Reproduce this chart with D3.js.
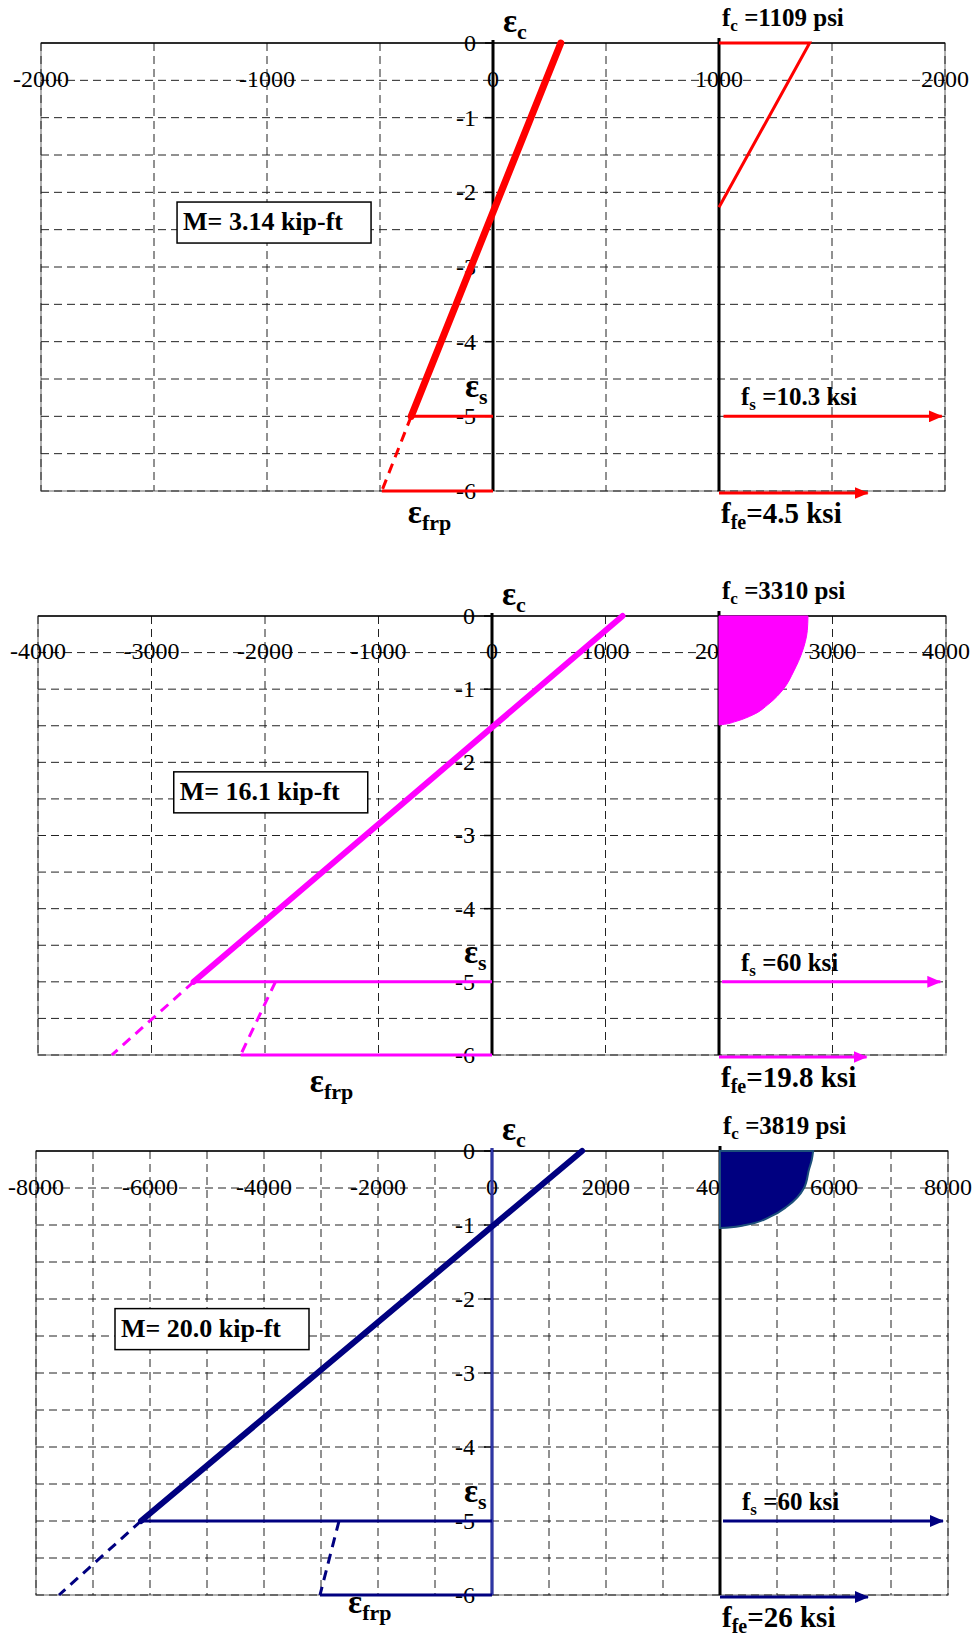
<!DOCTYPE html>
<html>
<head>
<meta charset="utf-8">
<script src="https://cdn.jsdelivr.net/npm/d3@7"></script>
<style>
body { margin: 0; background: #fff; }
text { font-family: "Liberation Serif", "Times New Roman", serif; }
</style>
</head>
<body>
<div id="holder"></div>
<script>
var width = 976;
var height = 1638;

// ---- data ----
var xMax = [2000, 4000, 8000];
var gridStep = [500, 1000, 1000];
var labelStep = [1000, 1000, 2000];
var depthTicks = [0, -1, -2, -3, -4, -5, -6];
var colors = ["#ff0000", "#ff00ff", "#000080"];
var epsTop = [300, 1150, 1580];          // concrete strain at top (depth 0)
var epsSteel = [-362, -2629, -6158];     // strain at steel level (depth -5)
var epsExtEnd = [-492, -3350, -7596];    // dashed extension end at depth -6
var frpDashTop = [null, -1908, -2684];   // debonded frp strain dashed line start (depth -5)
var epsFrp = [-492, -2215, -3018];       // frp strain at depth -6
var stressAxis = [1000, 2000, 4000];
var fsStart = [1020, 2027, 4053];
var fsEnd = [1986, 3950, 7912];
var ffeEnd = [1658, 3300, 6596];
var block1 = [[1000, -2.2], [1401, 0], [1000, 0]];
var block2 = [[2000, 0], [2784, 0], [2778, -0.2], [2731, -0.5], [2660, -0.75], [2567, -1.0],
              [2440, -1.2], [2300, -1.35], [2150, -1.44], [2050, -1.48], [2000, -1.49]];
var block3 = [[4000, 0], [5634, 0], [5610, -0.12], [5561, -0.25], [5474, -0.5], [5175, -0.75],
              [4900, -0.88], [4450, -1.0], [4150, -1.035], [4000, -1.04]];
var momentText = ["M= 3.14 kip-ft", "M= 16.1 kip-ft", "M= 20.0 kip-ft"];
var fcText = ["=1109 psi", "=3310 psi", "=3819 psi"];
var fsText = ["=10.3 ksi", "=60 ksi", "=60 ksi"];
var ffeText = ["=4.5 ksi", "=19.8 ksi", "=26 ksi"];

// ---- layout ----
var plotLeft = [41, 38, 36];
var plotRight = [945, 946, 948];
var plotTop = [43, 616, 1151];
var plotBottom = [491, 1055, 1595];
var boxX = [-1398, -2804, -6614];
var boxDepth = -2.13;
var frpLabelX = [-377, -1605, -2526];
var frpLabelDy = [32, 37, 18];
var lineW = [7, 6, 6];

var svg = d3.select("#holder")
  .append("svg")
  .attr("width", width)
  .attr("height", height);

var defs = svg.append("defs");
colors.forEach(function(c, i) {
  defs.append("marker")
    .attr("id", "arrow" + i)
    .attr("viewBox", "0 0 14 12")
    .attr("refX", 13)
    .attr("refY", 6)
    .attr("markerWidth", 14)
    .attr("markerHeight", 12)
    .attr("markerUnits", "userSpaceOnUse")
    .attr("orient", "auto")
    .append("path")
    .attr("d", "M0,0L14,6L0,12Z")
    .attr("fill", c);
});

// text with subscripts: parts = [[text, isSub], ...]
function label(g, x, y, parts, size, subSize) {
  var t = g.append("text")
    .attr("x", x)
    .attr("y", y)
    .attr("font-weight", "bold")
    .attr("font-size", size);
  var shift = 0;
  parts.forEach(function(p) {
    var want = p[1] ? Math.round(subSize * 0.3) : 0;
    t.append("tspan")
      .attr("dy", want - shift)
      .attr("font-size", p[1] ? subSize : size)
      .text(p[0]);
    shift = want;
  });
  return t;
}

function drawPanel(i) {
  var g = svg.append("g");
  var xs = d3.scaleLinear().domain([-xMax[i], xMax[i]]).range([plotLeft[i], plotRight[i]]);
  var ys = d3.scaleLinear().domain([0, -6]).range([plotTop[i], plotBottom[i]]);
  var col = colors[i];

  // border
  g.append("rect")
    .attr("x", plotLeft[i]).attr("y", plotTop[i])
    .attr("width", plotRight[i] - plotLeft[i])
    .attr("height", plotBottom[i] - plotTop[i])
    .attr("fill", "none")
    .attr("stroke", "#999")
    .attr("stroke-width", 1.5);

  // grid
  var vx = d3.range(-xMax[i], xMax[i] + 1, gridStep[i]);
  g.selectAll(".vg").data(vx).enter().append("line")
    .attr("x1", xs).attr("x2", xs)
    .attr("y1", plotTop[i]).attr("y2", plotBottom[i])
    .attr("stroke", "#222").attr("stroke-width", 1)
    .attr("stroke-dasharray", "8,5");
  var hy = d3.range(-0.5, -6.01, -0.5);
  g.selectAll(".hg").data(hy).enter().append("line")
    .attr("x1", plotLeft[i]).attr("x2", plotRight[i])
    .attr("y1", ys).attr("y2", ys)
    .attr("stroke", "#222").attr("stroke-width", 1)
    .attr("stroke-dasharray", "8,5");

  // top axis (x axis at depth 0)
  g.append("line")
    .attr("x1", plotLeft[i]).attr("x2", plotRight[i])
    .attr("y1", plotTop[i]).attr("y2", plotTop[i])
    .attr("stroke", "#000").attr("stroke-width", 1.5);

  // x tick labels, sitting at depth -0.5
  var lx = d3.range(-xMax[i], xMax[i] + 1, labelStep[i]);
  g.selectAll(".xl").data(lx).enter().append("text")
    .attr("x", xs)
    .attr("y", ys(-0.5))
    .attr("dy", "0.28em")
    .attr("text-anchor", "middle")
    .attr("font-size", 24)
    .text(function(d) { return d; });

  // y tick labels and ticks along x = 0
  g.selectAll(".yl").data(depthTicks).enter().append("text")
    .attr("x", xs(0) - 17)
    .attr("y", ys)
    .attr("dy", "0.33em")
    .attr("text-anchor", "end")
    .attr("font-size", 24)
    .text(function(d) { return d; });
  g.selectAll(".yt").data(depthTicks).enter().append("line")
    .attr("x1", xs(0) - 8).attr("x2", xs(0))
    .attr("y1", ys).attr("y2", ys)
    .attr("stroke", "#000").attr("stroke-width", 1.5);

  // y axis at x = 0
  if (i == 2) {
    g.append("line")
      .attr("x1", xs(0)).attr("x2", xs(0))
      .attr("y1", plotTop[i] - 3).attr("y2", plotBottom[i])
      .attr("stroke", "#000080").attr("stroke-width", 3);
    g.append("line")
      .attr("x1", xs(0)).attr("x2", xs(0))
      .attr("y1", plotTop[i] - 3).attr("y2", plotBottom[i])
      .attr("stroke", "#5a6cc8").attr("stroke-width", 1);
  } else {
    g.append("line")
      .attr("x1", xs(0)).attr("x2", xs(0))
      .attr("y1", plotTop[i] - 3).attr("y2", plotBottom[i])
      .attr("stroke", "#000").attr("stroke-width", 3);
  }

  // stress axis
  g.append("line")
    .attr("x1", xs(stressAxis[i])).attr("x2", xs(stressAxis[i]))
    .attr("y1", plotTop[i] - 5).attr("y2", plotBottom[i])
    .attr("stroke", "#000").attr("stroke-width", 3);

  var line = d3.line().x(function(d) { return xs(d[0]); }).y(function(d) { return ys(d[1]); });

  // strain profile
  g.append("path")
    .attr("d", line([[epsTop[i], 0], [epsSteel[i], -5]]))
    .attr("stroke", col).attr("stroke-width", lineW[i]).attr("fill", "none")
    .attr("stroke-linecap", "round");
  g.append("path")
    .attr("d", line([[epsSteel[i], -5], [epsExtEnd[i], -6]]))
    .attr("stroke", col).attr("stroke-width", 3).attr("fill", "none")
    .attr("stroke-dasharray", "10,7");
  if (frpDashTop[i] != null) {
    g.append("path")
      .attr("d", line([[frpDashTop[i], -5], [epsFrp[i], -6]]))
      .attr("stroke", col).attr("stroke-width", 3).attr("fill", "none")
      .attr("stroke-dasharray", "10,7");
  }
  g.append("path")
    .attr("d", line([[epsSteel[i], -5], [0, -5]]))
    .attr("stroke", col).attr("stroke-width", 3).attr("fill", "none");
  g.append("path")
    .attr("d", line([[epsFrp[i], -6], [0, -6]]))
    .attr("stroke", col).attr("stroke-width", 3).attr("fill", "none");

  // concrete stress block
  if (i == 0) {
    g.append("path")
      .attr("d", line(block1))
      .attr("stroke", col).attr("stroke-width", 3).attr("fill", "none");
  } else {
    var curve = d3.line()
      .x(function(d) { return xs(d[0]); })
      .y(function(d) { return ys(d[1]); })
      .curve(d3.curveMonotoneY);
    var pts = i == 1 ? block2 : block3;
    g.append("path")
      .attr("d", "M" + xs(pts[0][0]) + "," + ys(pts[0][1]) + curve(pts.slice(1)).replace(/^M/, "L") + "Z")
      .attr("fill", col)
      .attr("stroke", i == 2 ? "#1d4f7a" : col)
      .attr("stroke-width", i == 2 ? 2 : 1);
  }

  // steel and frp stress arrows
  g.append("line")
    .attr("x1", xs(fsStart[i])).attr("x2", xs(fsEnd[i]))
    .attr("y1", ys(-5)).attr("y2", ys(-5))
    .attr("stroke", col).attr("stroke-width", 3)
    .attr("marker-end", "url(#arrow" + i + ")");
  g.append("line")
    .attr("x1", xs(stressAxis[i])).attr("x2", xs(ffeEnd[i]))
    .attr("y1", ys(-6) + 2).attr("y2", ys(-6) + 2)
    .attr("stroke", col).attr("stroke-width", 3)
    .attr("marker-end", "url(#arrow" + i + ")");

  // annotations
  label(g, xs(0) + 10, plotTop[i] - 11, [["\u03b5", false], ["c", true]], 33, 22);
  label(g, xs(stressAxis[i]) + 3, plotTop[i] - 17, [["f", false], ["c", true], [" " + fcText[i], false]], 25, 17);
  label(g, xs(0) - 28, ys(-5) - 19, [["\u03b5", false], ["s", true]], 33, 22);
  label(g, xs(stressAxis[i]) + 22, ys(-5) - 11, [["f", false], ["s", true], [" " + fsText[i], false]], 25, 17);
  label(g, xs(frpLabelX[i]), ys(-6) + frpLabelDy[i], [["\u03b5", false], ["frp", true]], 33, 22);
  label(g, xs(stressAxis[i]) + 2, ys(-6) + 32, [["f", false], ["fe", true], [ffeText[i], false]], 29, 20);

  // moment box
  var bx = xs(boxX[i]);
  var by = ys(boxDepth);
  g.append("rect")
    .attr("x", bx).attr("y", by)
    .attr("width", 194).attr("height", 41)
    .attr("fill", "#fff").attr("stroke", "#000").attr("stroke-width", 1.5);
  g.append("text")
    .attr("x", bx + 6).attr("y", by + 28)
    .attr("font-weight", "bold")
    .attr("font-size", 26)
    .text(momentText[i]);
}

drawPanel(0);
drawPanel(1);
drawPanel(2);
</script>
</body>
</html>
